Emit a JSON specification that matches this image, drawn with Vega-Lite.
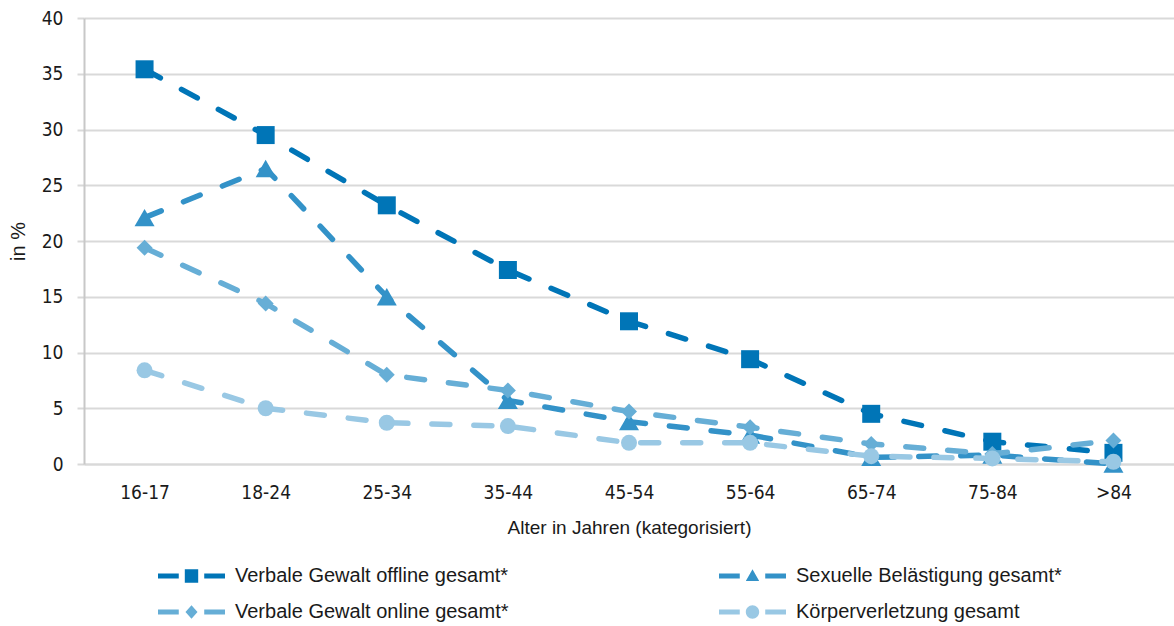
{
  "$schema": "https://vega.github.io/schema/vega-lite/v6.json",
  "width": 1090,
  "height": 446,
  "autosize": {"type": "none"},
  "padding": {"left": 84, "top": 18, "right": 0, "bottom": 162},
  "background": "white",
  "config": {
    "font": "DejaVu Sans Condensed, sans-serif",
    "view": {"stroke": null},
    "axis": {"labelFont": "DejaVu Sans Condensed, sans-serif", "titleFont": "Liberation Sans Narrow, sans-serif", "labelFontSize": 19, "titleFontSize": 19, "labelColor": "#1a1a1a", "titleColor": "#1a1a1a", "titleFontWeight": "normal"},
    "legend": {"labelFont": "Liberation Sans Narrow, sans-serif"}
  },
  "data": {
    "values": [
      {"alter": "16-17", "serie": "Verbale Gewalt offline gesamt*", "wert": 35.4},
      {"alter": "18-24", "serie": "Verbale Gewalt offline gesamt*", "wert": 29.5},
      {"alter": "25-34", "serie": "Verbale Gewalt offline gesamt*", "wert": 23.2},
      {"alter": "35-44", "serie": "Verbale Gewalt offline gesamt*", "wert": 17.4},
      {"alter": "45-54", "serie": "Verbale Gewalt offline gesamt*", "wert": 12.8},
      {"alter": "55-64", "serie": "Verbale Gewalt offline gesamt*", "wert": 9.4},
      {"alter": "65-74", "serie": "Verbale Gewalt offline gesamt*", "wert": 4.5},
      {"alter": "75-84", "serie": "Verbale Gewalt offline gesamt*", "wert": 2.0},
      {"alter": ">84", "serie": "Verbale Gewalt offline gesamt*", "wert": 1.0},
      {"alter": "16-17", "serie": "Sexuelle Belästigung gesamt*", "wert": 22.1},
      {"alter": "18-24", "serie": "Sexuelle Belästigung gesamt*", "wert": 26.5},
      {"alter": "25-34", "serie": "Sexuelle Belästigung gesamt*", "wert": 15.0},
      {"alter": "35-44", "serie": "Sexuelle Belästigung gesamt*", "wert": 5.7},
      {"alter": "45-54", "serie": "Sexuelle Belästigung gesamt*", "wert": 3.8},
      {"alter": "55-64", "serie": "Sexuelle Belästigung gesamt*", "wert": 2.6},
      {"alter": "65-74", "serie": "Sexuelle Belästigung gesamt*", "wert": 0.6},
      {"alter": "75-84", "serie": "Sexuelle Belästigung gesamt*", "wert": 0.8},
      {"alter": ">84", "serie": "Sexuelle Belästigung gesamt*", "wert": 0.0},
      {"alter": "16-17", "serie": "Verbale Gewalt online gesamt*", "wert": 19.4},
      {"alter": "18-24", "serie": "Verbale Gewalt online gesamt*", "wert": 14.4},
      {"alter": "25-34", "serie": "Verbale Gewalt online gesamt*", "wert": 8.0},
      {"alter": "35-44", "serie": "Verbale Gewalt online gesamt*", "wert": 6.6},
      {"alter": "45-54", "serie": "Verbale Gewalt online gesamt*", "wert": 4.7},
      {"alter": "55-64", "serie": "Verbale Gewalt online gesamt*", "wert": 3.3},
      {"alter": "65-74", "serie": "Verbale Gewalt online gesamt*", "wert": 1.8},
      {"alter": "75-84", "serie": "Verbale Gewalt online gesamt*", "wert": 0.9},
      {"alter": ">84", "serie": "Verbale Gewalt online gesamt*", "wert": 2.1},
      {"alter": "16-17", "serie": "Körperverletzung gesamt", "wert": 8.4},
      {"alter": "18-24", "serie": "Körperverletzung gesamt", "wert": 5.0},
      {"alter": "25-34", "serie": "Körperverletzung gesamt", "wert": 3.7},
      {"alter": "35-44", "serie": "Körperverletzung gesamt", "wert": 3.4},
      {"alter": "45-54", "serie": "Körperverletzung gesamt", "wert": 1.9},
      {"alter": "55-64", "serie": "Körperverletzung gesamt", "wert": 1.9},
      {"alter": "65-74", "serie": "Körperverletzung gesamt", "wert": 0.7},
      {"alter": "75-84", "serie": "Körperverletzung gesamt", "wert": 0.5},
      {"alter": ">84", "serie": "Körperverletzung gesamt", "wert": 0.2}
    ]
  },
  "encoding": {
    "x": {
      "field": "alter", "type": "ordinal",
      "sort": ["16-17", "18-24", "25-34", "35-44", "45-54", "55-64", "65-74", "75-84", ">84"],
      "scale": {"type": "point", "padding": 0.5},
      "axis": {"title": "Alter in Jahren (kategorisiert)", "labelAngle": 0, "ticks": false, "domain": true, "domainColor": "#d9d9d9", "domainWidth": 2, "labelPadding": 19, "titlePadding": 16, "grid": false}
    },
    "y": {
      "field": "wert", "type": "quantitative",
      "scale": {"domain": [0, 40], "nice": false},
      "axis": {"title": "in %", "values": [0, 5, 10, 15, 20, 25, 30, 35, 40], "grid": true, "gridColor": "#d9d9d9", "gridWidth": 2, "domain": true, "domainColor": "#c8c8c8", "domainWidth": 2, "tickSize": 7, "tickColor": "#d9d9d9", "tickWidth": 2, "labelPadding": 14, "titlePadding": 13, "titleFontSize": 20}
    },
    "color": {
      "field": "serie", "type": "nominal",
      "scale": {
        "domain": ["Verbale Gewalt offline gesamt*", "Verbale Gewalt online gesamt*", "Sexuelle Belästigung gesamt*", "Körperverletzung gesamt"],
        "range": ["#0075B7", "#66AED6", "#3392C8", "#99C8E4"]
      },
      "legend": {
        "title": null,
        "orient": "none",
        "legendX": 74,
        "legendY": 544,
        "columns": 2,
        "columnPadding": 210,
        "rowPadding": 8,
        "clipHeight": 28,
        "symbolSize": 4489,
        "labelFontSize": 20,
        "labelColor": "#1a1a1a",
        "labelOffset": 10,
        "labelLimit": 500,
        "encode": {
          "symbols": {
            "update": {
              "shape": {"signal": "datum.value == 'Verbale Gewalt offline gesamt*' ? 'M-1,-0.075H-0.38V0.075H-1Z M0.38,-0.075H1V0.075H0.38Z M-0.2,-0.2H0.2V0.2H-0.2Z' : datum.value == 'Sexuelle Belästigung gesamt*' ? 'M-1,-0.075H-0.38V0.075H-1Z M0.38,-0.075H1V0.075H0.38Z M0,-0.2L0.2,0.15H-0.2Z' : datum.value == 'Verbale Gewalt online gesamt*' ? 'M-1,-0.075H-0.38V0.075H-1Z M0.38,-0.075H1V0.075H0.38Z M0,-0.2L0.18,0L0,0.2L-0.18,0Z' : 'M-1,-0.075H-0.38V0.075H-1Z M0.38,-0.075H1V0.075H0.38Z M-0.2,0A0.2,0.2 0 1,0 0.2,0A0.2,0.2 0 1,0 -0.2,0Z'"},
              "fill": {"scale": "color", "field": "value"},
              "stroke": {"value": "transparent"},
              "strokeWidth": {"value": 0},
              "opacity": {"value": 1},
              "size": {"value": 4489}
            }
          }
        }
      }
    }
  },
  "layer": [
    {
      "transform": [{"filter": "datum.serie == 'Verbale Gewalt offline gesamt*'"}],
      "mark": {"type": "line", "strokeWidth": 5.5, "strokeDash": [18, 24], "strokeCap": "round"}
    },
    {
      "transform": [{"filter": "datum.serie == 'Verbale Gewalt offline gesamt*'"}],
      "mark": {"type": "point", "shape": "square", "size": 324, "filled": true, "opacity": 1}
    },
    {
      "transform": [{"filter": "datum.serie == 'Sexuelle Belästigung gesamt*'"}],
      "mark": {"type": "line", "strokeWidth": 5.5, "strokeDash": [18, 24], "strokeCap": "round"}
    },
    {
      "transform": [{"filter": "datum.serie == 'Sexuelle Belästigung gesamt*'"}],
      "mark": {"type": "point", "shape": "triangle-up", "size": 400, "filled": true, "opacity": 1}
    },
    {
      "transform": [{"filter": "datum.serie == 'Verbale Gewalt online gesamt*'"}],
      "mark": {"type": "line", "strokeWidth": 5.5, "strokeDash": [18, 24], "strokeCap": "round"}
    },
    {
      "transform": [{"filter": "datum.serie == 'Verbale Gewalt online gesamt*'"}],
      "mark": {"type": "point", "shape": "diamond", "size": 256, "filled": true, "opacity": 1}
    },
    {
      "transform": [{"filter": "datum.serie == 'Körperverletzung gesamt'"}],
      "mark": {"type": "line", "strokeWidth": 5.5, "strokeDash": [18, 24], "strokeCap": "round"}
    },
    {
      "transform": [{"filter": "datum.serie == 'Körperverletzung gesamt'"}],
      "mark": {"type": "point", "shape": "circle", "size": 256, "filled": true, "opacity": 1}
    }
  ]
}
